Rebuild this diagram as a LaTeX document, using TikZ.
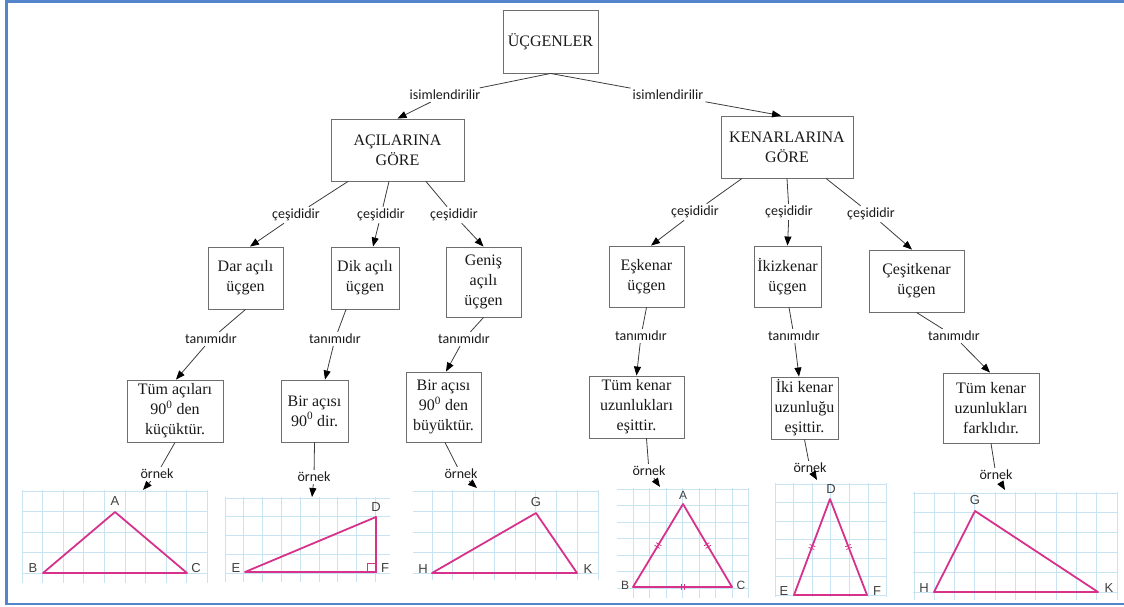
\documentclass[tikz,border=0pt]{standalone}
\usepackage{fontspec}
\setmainfont{Liberation Serif}
\newfontfamily\lblfont{Carlito}
\newfontfamily\trifont{Liberation Sans}
\usetikzlibrary{arrows.meta,calc,decorations.markings}
\definecolor{frameblue}{RGB}{84,132,204}
\definecolor{gridblue}{RGB}{200,228,242}
\definecolor{tripink}{RGB}{214,50,140}
\definecolor{boxgray}{RGB}{110,110,110}
\definecolor{linegray}{RGB}{60,60,60}
\begin{document}
\begin{tikzpicture}[x=1pt,y=-1pt,
  box/.style={draw=boxgray, line width=0.9pt, align=center, inner sep=0pt,
    font=\fontsize{16}{20}\selectfont, text=black!90},
  lbl/.style={font=\lblfont\fontsize{14}{16}\selectfont, inner sep=2pt, text=black!90},
  conn/.style={draw=linegray, line width=0.8pt},
  arr/.style={conn, -{Triangle[length=9pt,width=7pt,color=black]}},
  tri/.style={draw=tripink, line width=1.8pt, line join=round},
  gridline/.style={draw=gridblue, line width=0.9pt},
  vlab/.style={font=\trifont\fontsize{13}{13}\selectfont, text=black!75, inner sep=0pt},
  vlabs/.style={font=\trifont\fontsize{12}{12}\selectfont, text=black!75, inner sep=0pt},
  tickmark/.style={decorate, decoration={markings, mark=at position 0.5 with
    {\draw[tripink, line width=0.8pt] (-1.5,-3)--(-1.5,3) (1.5,-3)--(1.5,3);}}},
]
\useasboundingbox (0,0) rectangle (1124,606);
\clip (0,0) rectangle (1124,606);
\draw[frameblue, line width=2.5pt] (6.5,1.5) rectangle (1135,604);

% ---------- boxes ----------
\node[box, minimum width=95pt, minimum height=63pt] (root) at (550.5,41.5) {ÜÇGENLER};
\node[box, minimum width=133pt, minimum height=62pt] (acil) at (397.5,150) {AÇILARINA\\GÖRE};
\node[box, minimum width=132pt, minimum height=62pt] (kenar) at (787,147) {KENARLARINA\\GÖRE};

\node[box, minimum width=75pt, minimum height=62pt] (dar) at (245.5,278) {Dar açılı\\üçgen};
\node[box, minimum width=68pt, minimum height=62pt] (dik) at (365,278) {Dik açılı\\üçgen};
\node[box, minimum width=75pt, minimum height=70pt] (genis) at (483.5,282) {Geniş\\açılı\\üçgen};
\node[box, minimum width=75pt, minimum height=61pt] (esk) at (646.5,276.5) {Eşkenar\\üçgen};
\node[box, minimum width=67pt, minimum height=61pt] (ikiz) at (787.5,276.5) {İkizkenar\\üçgen};
\node[box, minimum width=95pt, minimum height=62pt] (cesit) at (916.5,281) {Çeşitkenar\\üçgen};

\node[box, minimum width=96pt, minimum height=62pt] (tum1) at (175,411) {Tüm açıları\\90\textsuperscript{0} den\\küçüktür.};
\node[box, minimum width=67pt, minimum height=62pt] (bir1) at (314.5,411) {Bir açısı\\90\textsuperscript{0} dir.};
\node[box, minimum width=75pt, minimum height=70pt] (bir2) at (443.5,407) {Bir açısı\\90\textsuperscript{0} den\\büyüktür.};
\node[box, minimum width=95pt, minimum height=62pt] (tumk) at (636.5,407) {Tüm kenar\\uzunlukları\\eşittir.};
\node[box, minimum width=67pt, minimum height=62pt] (iki) at (804.5,408) {İki kenar\\uzunluğu\\eşittir.};
\node[box, minimum width=96pt, minimum height=70pt] (tumf) at (991,408) {Tüm kenar\\uzunlukları\\farklıdır.};

% ---------- connector labels ----------
\node[lbl] (i1) at (445,95) {isimlendirilir};
\node[lbl] (i2) at (668,95) {isimlendirilir};
\node[lbl] (c1) at (296,215) {çeşididir};
\node[lbl] (c2) at (381,215) {çeşididir};
\node[lbl] (c3) at (454,215) {çeşididir};
\node[lbl] (c4) at (695,212) {çeşididir};
\node[lbl] (c5) at (789,212) {çeşididir};
\node[lbl] (c6) at (871,214) {çeşididir};
\node[lbl] (t1) at (211,339) {tanımıdır};
\node[lbl] (t2) at (335,339) {tanımıdır};
\node[lbl] (t3) at (464,339) {tanımıdır};
\node[lbl] (t4) at (641,336) {tanımıdır};
\node[lbl] (t5) at (794,336) {tanımıdır};
\node[lbl] (t6) at (954,336) {tanımıdır};
\node[lbl] (o1) at (157,474) {örnek};
\node[lbl] (o2) at (314,477) {örnek};
\node[lbl] (o3) at (461,474) {örnek};
\node[lbl] (o4) at (649,471) {örnek};
\node[lbl] (o5) at (810,468) {örnek};
\node[lbl] (o6) at (996,475) {örnek};

\coordinate (g1) at (143,490);
\coordinate (g2) at (312,497);
\coordinate (g3) at (477,488);
\coordinate (g4) at (660,487);
\coordinate (g5) at (817,480);
\coordinate (g6) at (1005,490);

% ---------- connectors ----------
\draw[conn] (root.south) -- (i1); \draw[arr] (i1) -- (acil.north);
\draw[conn] (root.south) -- (i2); \draw[arr] (i2) -- ([xshift=-6pt]kenar.north);

\draw[conn] ([xshift=-49.5pt]acil.south) -- (c1); \draw[arr] (c1) -- ([xshift=4.5pt]dar.north);
\draw[conn] ([xshift=-8.5pt]acil.south) -- (c2); \draw[arr] (c2) -- ([xshift=8pt]dik.north);
\draw[conn] ([xshift=28.5pt]acil.south) -- (c3); \draw[arr] (c3) -- (genis.north);
\draw[conn] ([xshift=-45pt]kenar.south) -- (c4); \draw[arr] (c4) -- ([xshift=4.5pt]esk.north);
\draw[conn] (kenar.south) -- (c5); \draw[arr] (c5) -- (ikiz.north);
\draw[conn] ([xshift=39pt]kenar.south) -- (c6); \draw[arr] (c6) -- ([xshift=-4.5pt]cesit.north);

\draw[conn] (dar.south) -- (t1); \draw[arr] (t1) -- ([xshift=1pt]tum1.north);
\draw[conn] ([xshift=-19pt]dik.south) -- (t2); \draw[arr] (t2) -- ([xshift=10.5pt]bir1.north);
\draw[conn] (genis.south) -- (t3); \draw[arr] (t3) -- ([xshift=2.5pt]bir2.north);
\draw[conn] (esk.south) -- (t4); \draw[arr] (t4) -- (tumk.north);
\draw[conn] ([xshift=1.5pt]ikiz.south) -- (t5); \draw[arr] (t5) -- ([xshift=-5.5pt]iki.north);
\draw[conn] (cesit.south) -- (t6); \draw[arr] (t6) -- ([xshift=-1pt]tumf.north);

\draw[conn] (tum1.south) -- (o1); \draw[arr] (o1) -- (g1);
\draw[conn] (bir1.south) -- (o2); \draw[arr] (o2) -- (g2);
\draw[conn] ([xshift=1.5pt]bir2.south) -- (o3); \draw[arr] (o3) -- (g3);
\draw[conn] ([xshift=10pt]tumk.south) -- (o4); \draw[arr] (o4) -- (g4);
\draw[conn] (iki.south) -- (o5); \draw[arr] (o5) -- (g5);
\draw[conn] (tumf.south) -- (o6); \draw[arr] (o6) -- (g6);

% ---------- grids ----------
\foreach \i in {0,...,9} \draw[gridline] ({22+20.6*\i},490) -- ({22+20.6*\i},583);
\foreach \j in {0,...,4} \draw[gridline] (22,{491+20.5*\j}) -- (207,{491+20.5*\j});

\foreach \i in {0,...,8} \draw[gridline] ({225+18.8*\i},497) -- ({225+18.8*\i},582);
\foreach \j in {0,...,4} \draw[gridline] (225,{498+18.75*\j}) -- (390,{498+18.75*\j});

\foreach \i in {0,...,8} \draw[gridline] ({432+20.75*\i},490) -- ({432+20.75*\i},580);
\foreach \j in {0,...,4} \draw[gridline] (413,{491+20.5*\j}) -- (598,{491+20.5*\j});

\foreach \i in {0,...,7} \draw[gridline] ({633+16.5*\i},488) -- ({633+16.5*\i},598);
\foreach \j in {0,...,6} \draw[gridline] (617,{489+16.5*\j}) -- (748,{489+16.5*\j});

\foreach \i in {0,...,6} \draw[gridline] ({775+18.6*\i},483) -- ({775+18.6*\i},597);
\foreach \j in {0,...,6} \draw[gridline] (775,{484+18.5*\j}) -- (887,{484+18.5*\j});

\foreach \i in {0,...,10} \draw[gridline] ({914+20.3*\i},492) -- ({914+20.3*\i},600);
\foreach \j in {0,...,5} \draw[gridline] (913,{493+19.8*\j}) -- (1117,{493+19.8*\j});

% ---------- triangles ----------
% 1 acute
\coordinate (A1) at (115,512); \coordinate (B1) at (43,573); \coordinate (C1) at (187,573);
\draw[tri] (A1) -- (B1) -- (C1) -- cycle;
\node[vlab] (lA1) at (115,501) {A};
\node[vlab] (lB1) at (33,568) {B};
\node[vlab] (lC1) at (196,568) {C};
% 2 right
\coordinate (D2) at (376,517); \coordinate (E2) at (245,572); \coordinate (F2) at (376,572);
\draw[tri] (D2) -- (E2) -- (F2) -- cycle;
\draw[tripink, line width=1.2pt] (367.5,563.5) rectangle (376,572);
\node[vlab] (lD2) at (376,507) {D};
\node[vlab] (lE2) at (236,568) {E};
\node[vlab] (lF2) at (385,568) {F};
% 3 obtuse
\coordinate (G3) at (536,513); \coordinate (H3) at (432,573); \coordinate (K3) at (577,573);
\draw[tri] (G3) -- (H3) -- (K3) -- cycle;
\node[vlab] (lG3) at (536,502) {G};
\node[vlab] (lH3) at (423,569) {H};
\node[vlab] (lK3) at (588,569) {K};
% 4 equilateral
\coordinate (A4) at (683,504); \coordinate (B4) at (633,587); \coordinate (C4) at (732,587);
\draw[tri] (A4) -- (B4) -- (C4) -- cycle;
\path[tickmark] (B4) -- (A4);
\path[tickmark] (A4) -- (C4);
\path[tickmark] (B4) -- (C4);
\node[vlabs] (lA4) at (683,495) {A};
\node[vlabs] (lB4) at (625,585) {B};
\node[vlabs] (lC4) at (741,585) {C};
% 5 isosceles
\coordinate (D5) at (830,499); \coordinate (E5) at (794,595); \coordinate (F5) at (867,595);
\draw[tri] (D5) -- (E5) -- (F5) -- cycle;
\path[tickmark] (E5) -- (D5);
\path[tickmark] (D5) -- (F5);
\node[vlab] (lD5) at (831,489) {D};
\node[vlab] (lE5) at (784,591) {E};
\node[vlab] (lF5) at (877,591) {F};
% 6 scalene
\coordinate (G6) at (975,511); \coordinate (H6) at (934,592); \coordinate (K6) at (1098,592);
\draw[tri] (G6) -- (H6) -- (K6) -- cycle;
\node[vlab] (lG6) at (975,500) {G};
\node[vlab] (lH6) at (924,588) {H};
\node[vlab] (lK6) at (1109,588) {K};
\end{tikzpicture}
\end{document}
